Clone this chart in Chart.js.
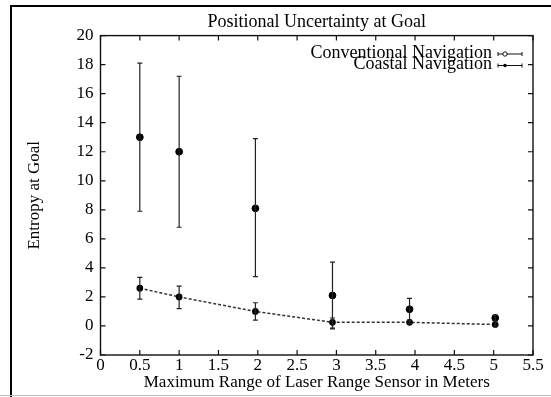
<!DOCTYPE html>
<html lang="en">
<head>
<meta charset="UTF-8">
<title>Positional Uncertainty at Goal</title>
<script src="https://cdn.jsdelivr.net/npm/chart.js"></script>
<style>
    html, body { margin: 0; padding: 0; background: #fff; }
    canvas { display: block; }
</style>
</head>
<body>
<canvas id="chart" width="551" height="397"></canvas>
<script>
    // maximum laser range (m) of each test run
    const ranges = [0.5, 1, 1.97, 2.95, 3.93, 5.02];

    // conventional navigation: mean entropy and error bar ends
    const conventional     = [13.0, 12.0, 8.1, 2.1, 1.15, 0.55];
    const conventionalLow  = [7.9, 6.8, 3.4, -0.2, 0.4, 0.35];
    const conventionalHigh = [18.1, 17.2, 12.9, 4.4, 1.9, 0.75];

    // coastal navigation
    const coastal     = [2.6, 2.0, 1.0, 0.25, 0.25, 0.1];
    const coastalLow  = [1.85, 1.2, 0.4, -0.15, 0.15, 0.0];
    const coastalHigh = [3.35, 2.75, 1.6, 0.55, 0.35, 0.25];

    // axes
    const xMin = 0, xMax = 5.5, xStep = 0.5;
    const yMin = -2, yMax = 20, yStep = 2;

    const seriesNames = ['Conventional Navigation', 'Coastal Navigation'];
    const titleText = 'Positional Uncertainty at Goal';
    const xTitle = 'Maximum Range of Laser Range Sensor in Meters';
    const yTitle = 'Entropy at Goal';

    const FONT = "'Liberation Serif', 'Times New Roman', serif";
    const INK = '#000';

    // vertical error bars with small caps
    const errorBars = {
        id: 'errorBars',
        afterDatasetsDraw(chart) {
            const ctx = chart.ctx;
            const xs = chart.scales.x, ys = chart.scales.y;
            chart.data.datasets.forEach(ds => {
                ctx.save();
                ctx.strokeStyle = '#222';
                ctx.lineWidth = 1.2;
                ds.data.forEach((p, i) => {
                    const px = xs.getPixelForValue(p.x);
                    const lo = ys.getPixelForValue(ds.errLow[i]);
                    const hi = ys.getPixelForValue(ds.errHigh[i]);
                    ctx.beginPath();
                    ctx.moveTo(px, lo); ctx.lineTo(px, hi);
                    ctx.moveTo(px - 2.5, lo); ctx.lineTo(px + 2.5, lo);
                    ctx.moveTo(px - 2.5, hi); ctx.lineTo(px + 2.5, hi);
                    ctx.stroke();
                });
                ctx.restore();
            });
        }
    };

    // box, inward ticks, page frame, legend
    const frame = {
        id: 'frame',
        afterDraw(chart) {
            const ctx = chart.ctx;
            const a = chart.chartArea;
            const xs = chart.scales.x, ys = chart.scales.y;
            ctx.save();

            // page frame (scanned figure border)
            ctx.strokeStyle = '#000';
            ctx.lineWidth = 2;
            ctx.beginPath();
            ctx.moveTo(11, 397); ctx.lineTo(11, 6); ctx.lineTo(551, 6);
            ctx.stroke();
            ctx.strokeStyle = '#bbb';
            ctx.lineWidth = 1;
            ctx.beginPath();
            ctx.moveTo(0, 395.5); ctx.lineTo(551, 395.5);
            ctx.stroke();

            // plot box
            ctx.strokeStyle = '#111';
            ctx.lineWidth = 1.4;
            ctx.strokeRect(a.left, a.top, a.right - a.left, a.bottom - a.top);

            // inward ticks on all sides
            ctx.lineWidth = 1.2;
            ctx.beginPath();
            xs.ticks.forEach(t => {
                const px = xs.getPixelForValue(t.value);
                ctx.moveTo(px, a.bottom); ctx.lineTo(px, a.bottom - 5);
                ctx.moveTo(px, a.top); ctx.lineTo(px, a.top + 5);
            });
            ys.ticks.forEach(t => {
                const py = ys.getPixelForValue(t.value);
                ctx.moveTo(a.left, py); ctx.lineTo(a.left + 5, py);
                ctx.moveTo(a.right, py); ctx.lineTo(a.right - 5, py);
            });
            ctx.stroke();

            // legend (text right aligned, sample to the right)
            const lx = 492, ly = [53, 64.5];
            ctx.fillStyle = INK;
            ctx.strokeStyle = '#111';
            ctx.font = '18px ' + FONT;
            ctx.textAlign = 'right';
            ctx.textBaseline = 'middle';
            seriesNames.forEach((name, i) => {
                ctx.fillText(name, lx, ly[i]);
                const y = ly[i] + 1;
                ctx.beginPath();
                ctx.moveTo(498, y); ctx.lineTo(522, y);
                ctx.moveTo(498, y - 2); ctx.lineTo(498, y + 2);
                ctx.moveTo(522, y - 2); ctx.lineTo(522, y + 2);
                ctx.lineWidth = 1;
                ctx.stroke();
                ctx.beginPath();
                ctx.arc(505, y, i === 0 ? 2.2 : 1.8, 0, Math.PI * 2);
                if (i === 0) {
                    ctx.fillStyle = '#fff';
                    ctx.fill();
                    ctx.stroke();
                    ctx.fillStyle = INK;
                } else {
                    ctx.fill();
                }
            });

            ctx.restore();
        }
    };

    const chart = new Chart(document.getElementById('chart'), {
        type: 'scatter',
        data: {
            datasets: [{
                label: seriesNames[0],
                data: ranges.map((x, i) => ({ x: x, y: conventional[i] })),
                errLow: conventionalLow,
                errHigh: conventionalHigh,
                showLine: false,
                pointRadius: 3.4,
                pointBackgroundColor: '#000',
                pointBorderColor: '#000'
            }, {
                label: seriesNames[1],
                data: ranges.map((x, i) => ({ x: x, y: coastal[i] })),
                errLow: coastalLow,
                errHigh: coastalHigh,
                showLine: true,
                borderColor: '#333',
                borderWidth: 1.5,
                borderDash: [3, 2],
                pointRadius: 2.6,
                pointBackgroundColor: '#000',
                pointBorderColor: '#000'
            }]
        },
        options: {
            responsive: false,
            animation: false,
            devicePixelRatio: 1,
            layout: { padding: { left: 14, right: 18, top: 0, bottom: 0 } },
            plugins: {
                legend: { display: false },
                tooltip: { enabled: false },
                title: {
                    display: true,
                    fullSize: false,
                    text: titleText,
                    color: INK,
                    font: { family: FONT, size: 18, weight: 'normal' },
                    padding: { top: 11, bottom: 3 }
                }
            },
            scales: {
                x: {
                    type: 'linear',
                    min: xMin, max: xMax,
                    grid: { display: false, drawTicks: false },
                    border: { display: false },
                    ticks: {
                        stepSize: xStep,
                        color: INK,
                        padding: 0,
                        maxRotation: 0,
                        font: { family: FONT, size: 17 },
                        callback: v => String(+v.toFixed(1))
                    },
                    title: {
                        display: true,
                        text: xTitle,
                        color: INK,
                        font: { family: FONT, size: 17 },
                        padding: { top: 0, bottom: 4 }
                    },
                    afterFit: s => { s.height = 42; }
                },
                y: {
                    min: yMin, max: yMax,
                    grid: { display: false, drawTicks: false },
                    border: { display: false },
                    ticks: {
                        stepSize: yStep,
                        color: INK,
                        padding: 7,
                        font: { family: FONT, size: 17 }
                    },
                    title: {
                        display: true,
                        text: yTitle,
                        color: INK,
                        font: { family: FONT, size: 17 },
                        padding: { top: 10, bottom: 0 }
                    },
                    afterFit: s => { s.width = 86.5; }
                }
            }
        },
        plugins: [errorBars, frame]
    });
</script>
</body>
</html>
